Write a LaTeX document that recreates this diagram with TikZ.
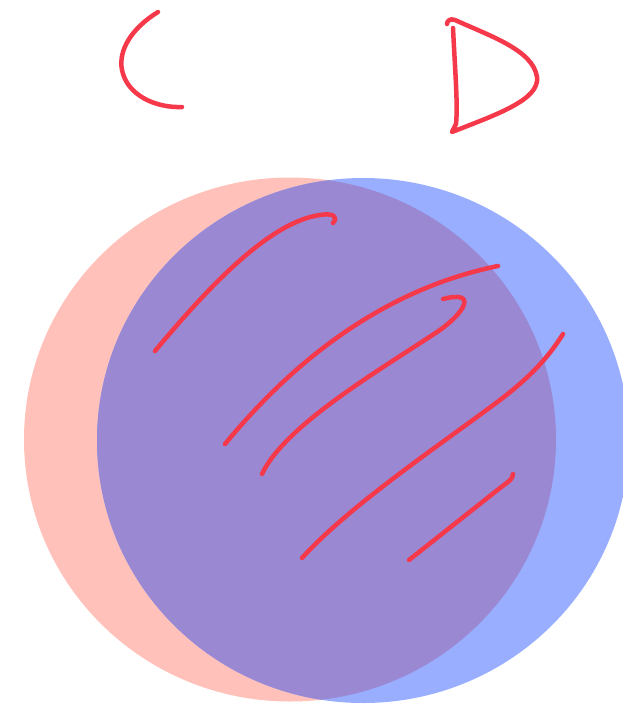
\documentclass[tikz,border=0pt]{standalone}
\definecolor{salmon}{HTML}{FFC1B9}
\definecolor{bluec}{HTML}{99AEFF}
\definecolor{overlap}{HTML}{9A88D2}
\definecolor{ink}{HTML}{F5394A}
\begin{document}
\begin{tikzpicture}[x=1pt,y=-1pt,
  pen/.style={draw=ink,line width=4.5pt,line cap=round,line join=round}]
\useasboundingbox (0,0) rectangle (623,707);
\begin{scope}
\clip (0,0) rectangle (623,707);
% circles
\fill[salmon] (290,439.5) ellipse[x radius=266, y radius=262];
\fill[bluec] (363,440.5) ellipse[x radius=266, y radius=262.5];
\begin{scope}
  \clip (290,439.5) ellipse[x radius=266, y radius=262];
  \fill[overlap] (363,440.5) ellipse[x radius=266, y radius=262.5];
\end{scope}
\end{scope}
% C
\draw[pen] (158,12) .. controls (132,28) and (118,50) .. (122,70)
  .. controls (127,95) and (155,108) .. (182,107);
% D
\draw[pen] (453,28) .. controls (455,70) and (458,105) .. (456,124) -- (452,132)
  .. controls (495,115) and (540,100) .. (537,77)
  .. controls (533,50) and (490,36) .. (455,20)
  .. controls (450,18) and (447,21) .. (447,24);
% hatching
\draw[pen] (155,351) .. controls (210,285) and (270,222) .. (320,215)
  .. controls (332,213) and (339,216) .. (333,223);
\draw[pen] (225,444) .. controls (290,365) and (380,290) .. (498,266);
\draw[pen] (262,474) .. controls (285,425) and (380,370) .. (440,330)
  .. controls (465,312) and (478,290) .. (443,299);
\draw[pen] (302,558) .. controls (350,505) and (440,445) .. (500,400)
  .. controls (530,377) and (548,358) .. (563,334);
\draw[pen] (409,560) -- (500,488) .. controls (512,479) .. (513,474);
\end{tikzpicture}
\end{document}
